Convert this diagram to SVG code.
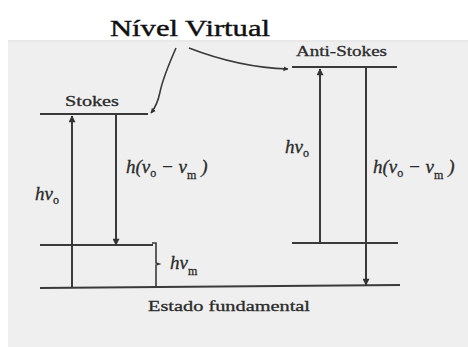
<svg xmlns="http://www.w3.org/2000/svg" width="468" height="347" viewBox="0 0 468 347">
<style>
.ln{stroke:#3a3a3a;stroke-width:2;fill:none}
.ar{stroke:#3a3a3a;stroke-width:1.6;fill:none}
.lbl{font-family:"Liberation Serif","DejaVu Serif",serif;fill:#2a2a2a;font-size:15px;stroke:#2a2a2a;stroke-width:0.3}
.math{font-family:"Liberation Serif","DejaVu Serif",serif;font-style:italic;fill:#2a2a2a;font-size:19px;stroke:#2a2a2a;stroke-width:0.3}
.sub{font-size:12px;font-style:normal}
</style>
<defs>
<marker id="ah" viewBox="0 0 10 10" refX="9" refY="5" markerWidth="5" markerHeight="6" orient="auto" markerUnits="userSpaceOnUse">
<path d="M0,0 L10,5 L0,10 z" fill="#333"/>
</marker>
<marker id="ahb" viewBox="0 0 10 10" refX="9" refY="5" markerWidth="14" markerHeight="7" orient="auto" markerUnits="userSpaceOnUse">
<path d="M0,0 L10,5 L0,10 z" fill="#333"/>
</marker>
</defs>
<rect x="0" y="0" width="468" height="347" fill="#fff"/>
<rect x="8" y="40" width="460" height="307" fill="#efefef"/>
<line x1="8" y1="41" x2="468" y2="41" stroke="#e2e2e2" stroke-width="1"/>

<g id="title">
<text x="110" y="36" font-family="Liberation Serif, DejaVu Serif, serif" font-size="23" fill="#111" stroke="#111" stroke-width="0.4" textLength="160" lengthAdjust="spacingAndGlyphs">Nível Virtual</text>
</g>

<g id="stokes-level">
<line class="ln" x1="40" y1="114" x2="148" y2="114"/>
<text class="lbl" x="65" y="106" textLength="54" lengthAdjust="spacingAndGlyphs">Stokes</text>
</g>
<g id="antistokes-level">
<line class="ln" x1="292" y1="67" x2="397" y2="67"/>
<text class="lbl" x="296" y="56" textLength="91" lengthAdjust="spacingAndGlyphs">Anti-Stokes</text>
</g>
<g id="vib-level-left">
<line class="ln" x1="40" y1="245" x2="153" y2="245"/>
</g>
<g id="vib-level-right">
<line class="ln" x1="292" y1="243" x2="398" y2="243"/>
</g>
<g id="ground">
<line class="ln" x1="40" y1="288" x2="400" y2="285"/>
<text class="lbl" x="148" y="311" textLength="162" lengthAdjust="spacingAndGlyphs">Estado fundamental</text>
</g>
<g id="bracket">
<path class="ar" d="M152,243 L156,243 L156,263 L159,264 L156,265 L156,287 L152,287"/>
<text class="math" x="170" y="269">hν<tspan class="sub" dy="6">m</tspan></text>
</g>

<g id="connectors">
<line class="ln" x1="72" y1="288" x2="72" y2="116" marker-end="url(#ahb)"/>
<line class="ln" x1="116" y1="114" x2="116" y2="245" marker-end="url(#ahb)"/>
<line class="ln" x1="320" y1="243" x2="320" y2="69" marker-end="url(#ahb)"/>
<line class="ln" x1="366" y1="67" x2="366" y2="285" marker-end="url(#ahb)"/>
<path class="ar" d="M176,48 C168,66 163,78 160,92 C158,102 155,108 151,113" marker-end="url(#ah)"/>
<path class="ar" d="M189,48 C220,60 255,68 288,69" marker-end="url(#ah)"/>
</g>

<g id="labels">
<text class="math" x="35" y="200">hν<tspan class="sub" dy="4">o</tspan></text>
<text class="math" x="126" y="173">h(ν<tspan class="sub" dy="4">o</tspan><tspan dy="-4">  −  ν</tspan><tspan class="sub" dy="6">m</tspan><tspan dy="-6"> )</tspan></text>
<text class="math" x="285" y="153">hν<tspan class="sub" dy="4">o</tspan></text>
<text class="math" x="373" y="173">h(ν<tspan class="sub" dy="4">o</tspan><tspan dy="-4">  −  ν</tspan><tspan class="sub" dy="6">m</tspan><tspan dy="-6"> )</tspan></text>
</g>
</svg>
